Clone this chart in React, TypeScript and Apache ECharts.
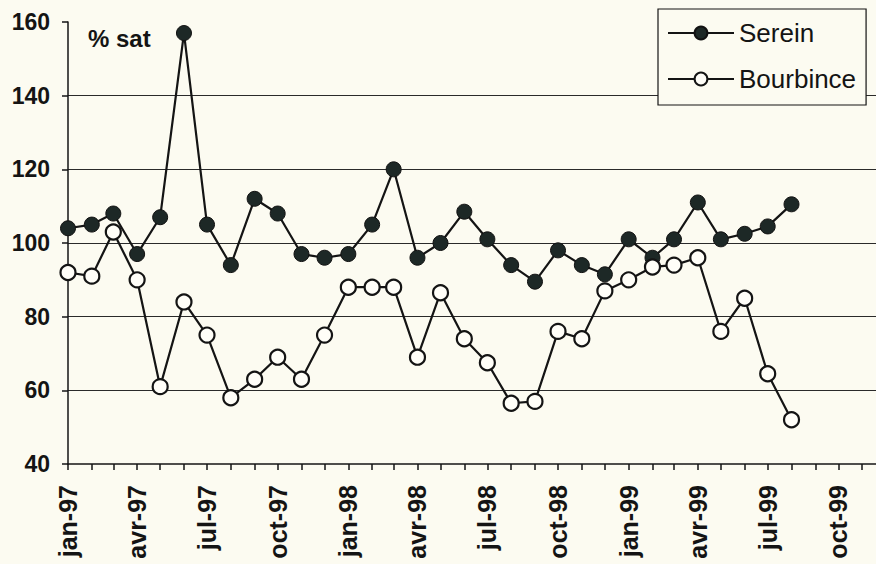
import React, { useEffect, useRef } from "react";
import * as echarts from "echarts";

// Monthly observations (first day of month)
const months: string[] = [
  "1997-01", "1997-02", "1997-03", "1997-04", "1997-05", "1997-06",
  "1997-07", "1997-08", "1997-09", "1997-10", "1997-11", "1997-12",
  "1998-01", "1998-02", "1998-03", "1998-04", "1998-05", "1998-06",
  "1998-07", "1998-08", "1998-09", "1998-10", "1998-11", "1998-12",
  "1999-01", "1999-02", "1999-03", "1999-04", "1999-05", "1999-06",
  "1999-07", "1999-08",
];

const serein: number[] = [
  104, 105, 108, 97, 107, 157, 105, 94, 112, 108, 97, 96,
  97, 105, 120, 96, 100, 108.5, 101, 94, 89.5, 98, 94, 91.5,
  101, 96, 101, 111, 101, 102.5, 104.5, 110.5,
];

const bourbince: number[] = [
  92, 91, 103, 90, 61, 84, 75, 58, 63, 69, 63, 75,
  88, 88, 88, 69, 86.5, 74, 67.5, 56.5, 57, 76, 74, 87,
  90, 93.5, 94, 96, 76, 85, 64.5, 52,
];

// Minor ticks (every month) and labelled ticks (every quarter)
const tickMonths: string[] = [
  "1997-01", "1997-02", "1997-03", "1997-04", "1997-05", "1997-06",
  "1997-07", "1997-08", "1997-09", "1997-10", "1997-11", "1997-12",
  "1998-01", "1998-02", "1998-03", "1998-04", "1998-05", "1998-06",
  "1998-07", "1998-08", "1998-09", "1998-10", "1998-11", "1998-12",
  "1999-01", "1999-02", "1999-03", "1999-04", "1999-05", "1999-06",
  "1999-07", "1999-08", "1999-09", "1999-10", "1999-11",
];
const labelMonths: string[] = [
  "1997-01", "1997-04", "1997-07", "1997-10",
  "1998-01", "1998-04", "1998-07", "1998-10",
  "1999-01", "1999-04", "1999-07", "1999-10",
];
const tickLabels: string[] = [
  "jan-97", "avr-97", "jul-97", "oct-97",
  "jan-98", "avr-98", "jul-98", "oct-98",
  "jan-99", "avr-99", "jul-99", "oct-99",
];

const yTicks: number[] = [40, 60, 80, 100, 120, 140, 160];

const toTs = (m: string): number => {
  const [y, mo] = m.split("-").map(Number);
  return Date.UTC(y, mo - 1, 1);
};

const FONT = "'Liberation Sans', Arial, Helvetica, sans-serif";
const INK = "#141414";
const BG = "#fcfbf1";

export default function App() {
  const ref = useRef<HTMLDivElement>(null);

  useEffect(() => {
    if (!ref.current) return;
    const chart = echarts.init(ref.current, undefined, { renderer: "svg" });

    const labelTs = labelMonths.map(toTs);
    const labelMap = new Map<number, string>();
    labelTs.forEach((t, i) => labelMap.set(t, tickLabels[i]));

    const xMin = toTs("1997-01");
    const xMax = Date.UTC(1999, 10, 19);

    chart.setOption({
      animation: false,
      backgroundColor: BG,
      textStyle: { fontFamily: FONT, color: INK },
      grid: { left: 68, right: 0, top: 22, bottom: 100, containLabel: false },
      legend: {
        left: 658,
        top: 9,
        orient: "vertical",
        backgroundColor: BG,
        borderColor: INK,
        borderWidth: 1.2,
        borderRadius: 0,
        padding: [11, 10, 13, 9],
        itemGap: 20,
        itemWidth: 66,
        itemHeight: 16,
        textStyle: { fontFamily: FONT, fontSize: 26, color: INK },
        data: ["Serein", "Bourbince"],
      },
      graphic: [
        {
          type: "text",
          left: 88,
          top: 26,
          style: {
            text: "% sat",
            fontFamily: FONT,
            fontSize: 24,
            fontWeight: "bold",
            fill: INK,
          },
        },
      ],
      xAxis: {
        type: "value",
        min: xMin,
        max: xMax,
        axisLine: { show: true, onZero: false, lineStyle: { color: INK, width: 1.5 } },
        axisTick: {
          show: true,
          length: 6,
          customValues: tickMonths.map(toTs),
          lineStyle: { color: INK, width: 1.5 },
        },
        axisLabel: {
          customValues: labelTs,
          rotate: 90,
          margin: 21,
          fontFamily: FONT,
          fontSize: 25,
          fontWeight: "bold",
          color: INK,
          formatter: (v: number) => labelMap.get(v) ?? "",
        },
        splitLine: { show: false },
      },
      yAxis: {
        type: "value",
        min: yTicks[0],
        max: yTicks[yTicks.length - 1],
        interval: 20,
        axisLine: { show: true, lineStyle: { color: INK, width: 1.5 } },
        axisTick: { show: true, length: 6, lineStyle: { color: INK, width: 1.5 } },
        axisLabel: {
          margin: 18,
          fontFamily: FONT,
          fontSize: 23,
          fontWeight: "bold",
          color: INK,
        },
        splitLine: {
          show: true,
          showMinLine: false,
          showMaxLine: false,
          lineStyle: { color: "#2a2a2a", width: 1.2 },
        },
      },
      series: [
        {
          name: "Serein",
          type: "line",
          data: months.map((m, i) => [toTs(m), serein[i]]),
          symbol: "circle",
          symbolSize: 15,
          lineStyle: { color: INK, width: 2.2 },
          itemStyle: { color: "#1d2826", borderColor: "#111", borderWidth: 1 },
          z: 3,
        },
        {
          name: "Bourbince",
          type: "line",
          data: months.map((m, i) => [toTs(m), bourbince[i]]),
          symbol: "circle",
          symbolSize: 15,
          lineStyle: { color: INK, width: 2.2 },
          itemStyle: { color: "#fffef8", borderColor: INK, borderWidth: 2.2 },
          z: 4,
        },
      ],
    });

    return () => chart.dispose();
  }, []);

  return (
    <div
      ref={ref}
      style={{ width: 876, height: 564, position: "fixed", left: 0, top: 0 }}
    />
  );
}
